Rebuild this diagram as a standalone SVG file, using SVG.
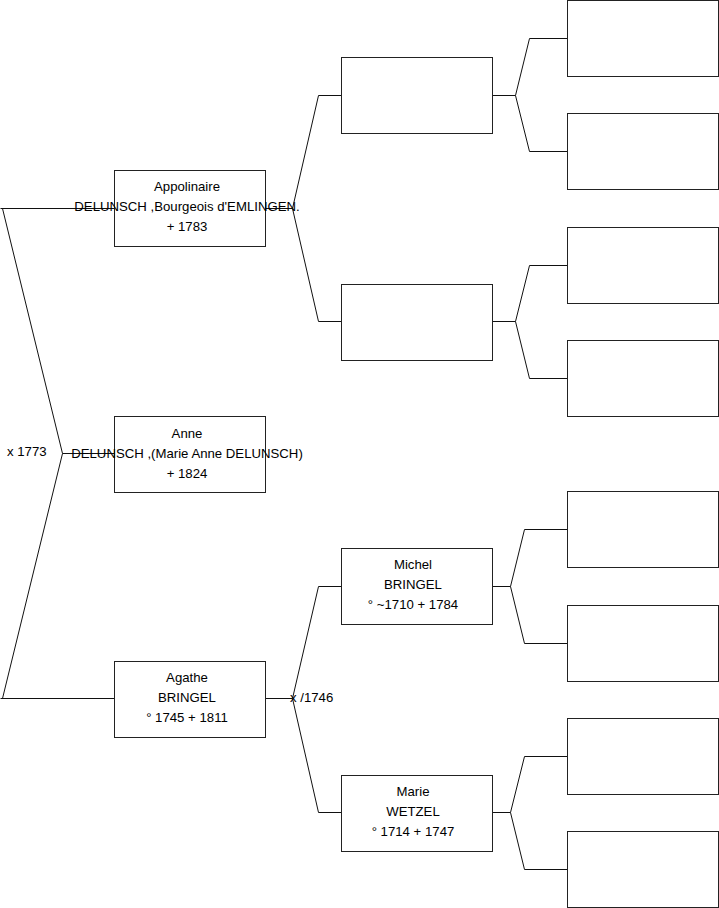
<svg xmlns="http://www.w3.org/2000/svg" width="719" height="908" viewBox="0 0 719 908">
<style>
.box{fill:#fff;stroke:#222;stroke-width:1}
.ln{fill:none;stroke:#111;stroke-width:1}
text{font-family:"Liberation Sans",Arial,sans-serif;font-size:13.2px;fill:#000}
.c{text-anchor:middle}
</style>
<rect width="719" height="908" fill="#fff"/>
<g id="connectors">
<path class="ln" d="M0.5,208.5 H114.5 M2.5,208.5 L62.5,453.5 L2.5,698.5 M0.5,698.5 H114.5 M62.5,453.5 H114.5"/>
<path class="ln" d="M265.5,208.5 H292.5 M341.5,95.5 H318.5 L292.5,208.5 L318.5,321.5 H341.5"/>
<path class="ln" d="M265.5,698.5 H292.5 M341.5,586.5 H318.5 L292.5,698.5 L318.5,812.5 H341.5"/>
<path class="ln" d="M492.5,95.5 H515.5 M567.5,38.5 H529.5 L515.5,95.5 L529.5,151.5 H567.5"/>
<path class="ln" d="M492.5,321.5 H515.5 M567.5,265.5 H529.5 L515.5,321.5 L529.5,378.5 H567.5"/>
<path class="ln" d="M492.5,586.5 H510.5 M567.5,529.5 H524.5 L510.5,586.5 L524.5,643.5 H567.5"/>
<path class="ln" d="M492.5,812.5 H510.5 M567.5,756.5 H524.5 L510.5,812.5 L524.5,869.5 H567.5"/>
</g>
<g id="label-x1773"><text x="7" y="456">x 1773</text></g>
<g id="label-x1746"><text x="290" y="702">x /1746</text></g>
<g id="n-appolinaire">
<rect class="box" x="114.5" y="170.5" width="151" height="76"/>
<text class="c" x="187" y="191">Appolinaire</text>
<text class="c" x="187" y="211">DELUNSCH ,Bourgeois d'EMLINGEN.</text>
<text class="c" x="187" y="231">+ 1783</text>
</g>
<g id="n-anne">
<rect class="box" x="114.5" y="416.5" width="151" height="76"/>
<text class="c" x="187" y="438">Anne</text>
<text class="c" x="187" y="458">DELUNSCH ,(Marie Anne DELUNSCH)</text>
<text class="c" x="187" y="478">+ 1824</text>
</g>
<g id="n-agathe">
<rect class="box" x="114.5" y="661.5" width="151" height="76"/>
<text class="c" x="187" y="682">Agathe</text>
<text class="c" x="187" y="702">BRINGEL</text>
<text class="c" x="187" y="722">° 1745 + 1811</text>
</g>
<g id="n-p1">
<rect class="box" x="341.5" y="57.5" width="151" height="76"/>
</g>
<g id="n-p2">
<rect class="box" x="341.5" y="284.5" width="151" height="76"/>
</g>
<g id="n-michel">
<rect class="box" x="341.5" y="548.5" width="151" height="76"/>
<text class="c" x="413" y="569">Michel</text>
<text class="c" x="413" y="589">BRINGEL</text>
<text class="c" x="413" y="609">° ~1710 + 1784</text>
</g>
<g id="n-marie">
<rect class="box" x="341.5" y="775.5" width="151" height="76"/>
<text class="c" x="413" y="796">Marie</text>
<text class="c" x="413" y="816">WETZEL</text>
<text class="c" x="413" y="836">° 1714 + 1747</text>
</g>
<g id="n-g1"><rect class="box" x="567.5" y="0.5" width="151" height="76"/></g>
<g id="n-g2"><rect class="box" x="567.5" y="113.5" width="151" height="76"/></g>
<g id="n-g3"><rect class="box" x="567.5" y="227.5" width="151" height="76"/></g>
<g id="n-g4"><rect class="box" x="567.5" y="340.5" width="151" height="76"/></g>
<g id="n-g5"><rect class="box" x="567.5" y="491.5" width="151" height="76"/></g>
<g id="n-g6"><rect class="box" x="567.5" y="605.5" width="151" height="76"/></g>
<g id="n-g7"><rect class="box" x="567.5" y="718.5" width="151" height="76"/></g>
<g id="n-g8"><rect class="box" x="567.5" y="831.5" width="151" height="76"/></g>
</svg>
